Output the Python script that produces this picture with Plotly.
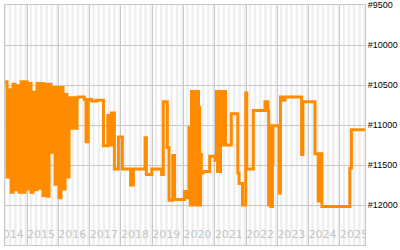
import plotly.graph_objects as go

# ---- data: sales-rank history (step series, lower rank = better) ----
dates = [
    "2014-04-19", "2014-05-12", "2014-06-05", "2014-06-28", "2014-07-21", "2014-08-14",
    "2014-09-06", "2014-09-29", "2014-10-23", "2014-11-15", "2014-12-08", "2015-01-01",
    "2015-01-24", "2015-02-16", "2015-03-12", "2015-04-04", "2015-04-27", "2015-05-21",
    "2015-06-13", "2015-07-06", "2015-07-30", "2015-08-22", "2015-09-14", "2015-10-08",
    "2015-10-31", "2015-11-23", "2015-12-17", "2016-01-09", "2016-02-01", "2016-02-25",
    "2016-03-19", "2016-04-11", "2016-05-05", "2016-05-28", "2016-06-20", "2016-07-14",
    "2016-08-06", "2016-08-18", "2016-10-30", "2016-11-19", "2016-12-12", "2017-01-25",
    "2017-03-25", "2017-06-10", "2017-07-31", "2017-08-27", "2017-09-13", "2017-10-16",
    "2017-12-02", "2018-01-17", "2018-04-23", "2018-05-26", "2018-10-09", "2018-10-24",
    "2018-12-27", "2019-04-21", "2019-05-10", "2019-06-26", "2019-07-16", "2019-08-28",
    "2019-09-18", "2020-01-12", "2020-02-02", "2020-03-05", "2020-03-20", "2020-04-03",
    "2020-04-15", "2020-04-26", "2020-05-08", "2020-05-20", "2020-06-01", "2020-06-13",
    "2020-06-24", "2020-07-03", "2020-07-08", "2020-07-18", "2020-07-27", "2020-08-16",
    "2020-11-02", "2021-01-03", "2021-01-20", "2021-02-01", "2021-02-13", "2021-02-24",
    "2021-03-08", "2021-04-01", "2021-04-12", "2021-04-24", "2021-05-06", "2021-07-12",
    "2021-09-26", "2021-10-10", "2021-11-20", "2021-12-28", "2022-01-09", "2022-03-26",
    "2022-08-09", "2022-09-13", "2022-09-21", "2022-10-06", "2022-10-18", "2022-11-04",
    "2022-11-10", "2023-01-25", "2023-02-06", "2023-03-01", "2023-03-30", "2023-10-11",
    "2023-10-26", "2024-03-15", "2024-04-22", "2024-05-20", "2024-06-04", "2025-04-26",
    "2025-05-14", "2025-10-19",
]
ranks = [
    10460, 11650, 10560, 11840, 10490, 11810,
    10510, 11840, 10460, 11840, 10460, 11800,
    10480, 11840, 10590, 11810, 10480, 11790,
    10480, 11880, 10490, 11890, 10490, 11340,
    10530, 11740, 10530, 11910, 10530, 11800,
    10620, 11650, 10660, 11040, 10660, 11040,
    10660, 10650, 10680, 11210, 10680, 10700,
    10690, 11260, 10880, 11250, 10850, 11550,
    11150, 11550, 11750, 11550, 11160, 11620,
    11550, 11620, 10710, 11280, 11940, 11380,
    11930, 11830, 11910, 11030, 12000, 10580,
    12000, 10580, 12000, 10580, 12000, 10580,
    12000, 10780, 12000, 11370, 11600, 11580,
    11390, 11440, 10580, 11580, 10580, 11580,
    11060, 10580, 11250, 10580, 11250, 10860,
    11600, 11730, 12000, 10600, 11550, 10820,
    10710, 10820, 12000, 11010, 12020, 11480,
    11010, 11850, 10650, 10690, 10650, 11370,
    10710, 11360, 11950, 11360, 12020, 11540,
    11060, 11060,
]
year_labels = ["2014", "2015", "2016", "2017", "2018", "2019", "2020",
               "2021", "2022", "2023", "2024", "2025"]
y_ticks = [9500, 10000, 10500, 11000, 11500, 12000, 12500]

X_RANGE = ["2014-04-18", "2025-10-20"]
Y_RANGE = [12500, 9500]
LABEL_RANK = 12375

fig = go.Figure()

# alternating monthly background stripes
shapes = []
for yl in year_labels:
    yr = int(yl)
    for m in range(2, 13, 2):
        x0 = f"{yr}-{m:02d}-01"
        x1 = f"{yr + 1}-01-01" if m == 12 else f"{yr}-{m + 1:02d}-01"
        shapes.append(dict(type="rect", xref="x", yref="paper", x0=x0, x1=x1,
                           y0=0, y1=1, fillcolor="#efefef", line=dict(width=0),
                           layer="below"))

# year labels inside plot area (clipped)
fig.add_trace(go.Scatter(
    x=[f"{y}-01-01" for y in year_labels],
    y=[LABEL_RANK] * len(year_labels),
    text=year_labels, mode="text", textposition="middle right",
    marker=dict(size=1),
    textfont=dict(family="DejaVu Sans", size=11, color="#c4c4c4"),
    cliponaxis=True, hoverinfo="skip", showlegend=False,
))

fig.add_trace(go.Scatter(
    x=dates, y=ranks, mode="lines", line=dict(color="#ff8c00", width=3, shape="hv"),
    hoverinfo="skip", showlegend=False,
))

fig.update_layout(
    template=None,
    width=400, height=250,
    margin=dict(l=5, r=35, t=5, b=5),
    paper_bgcolor="white", plot_bgcolor="white",
    shapes=shapes,
    xaxis=dict(type="date", range=X_RANGE, showgrid=True, gridcolor="#c8c8c8",
               gridwidth=1, tick0="2014-01-01", dtick="M12", showticklabels=False,
               ticks="", zeroline=False, showline=True, mirror=True,
               linecolor="#c8c8c8", linewidth=1, automargin=False),
    yaxis=dict(range=Y_RANGE, side="right", tickvals=y_ticks,
               ticktext=[f"#{v}" for v in y_ticks],
               showgrid=True, gridcolor="#c8c8c8", gridwidth=1, ticks="",
               zeroline=False, showline=True, mirror=True, linecolor="#c8c8c8",
               linewidth=1, automargin=False,
               tickfont=dict(family="Liberation Sans", size=9, color="black")),
    hovermode=False,
)

fig.write_html("out.html", config={"displayModeBar": False})
